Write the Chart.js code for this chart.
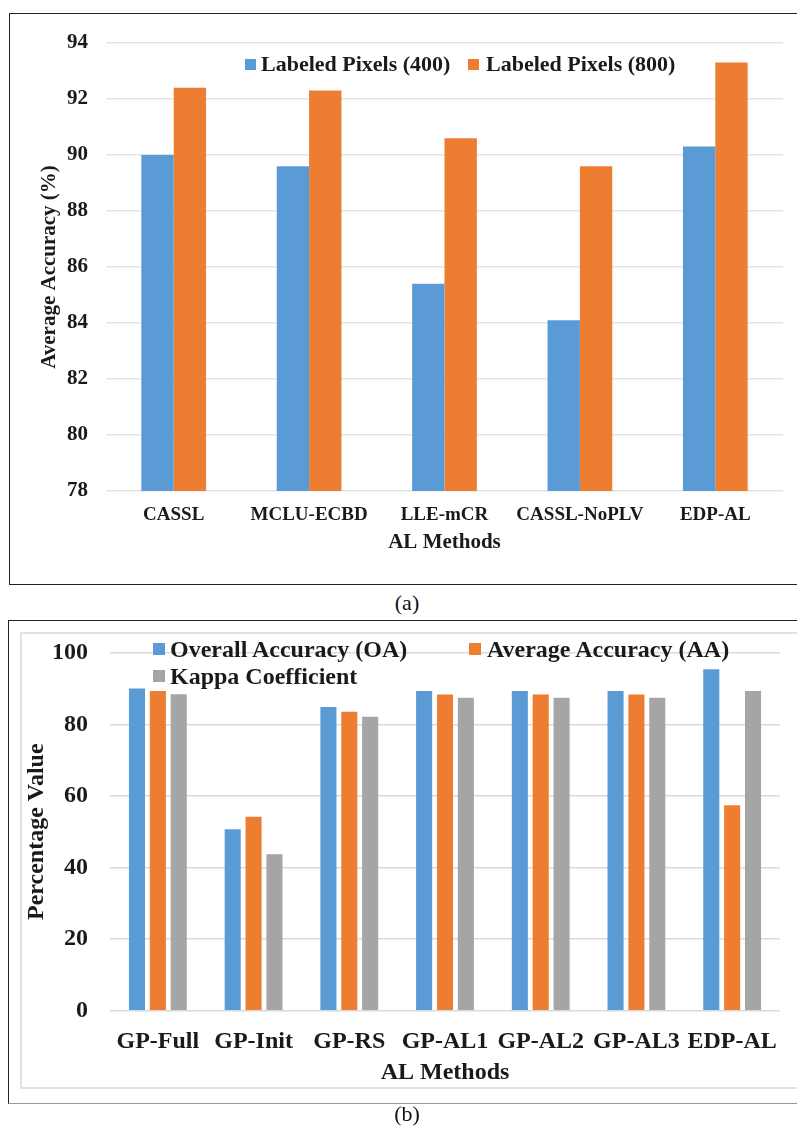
<!DOCTYPE html>
<html>
<head>
<meta charset="utf-8">
<script src="https://cdn.jsdelivr.net/npm/chart.js@4.4.1/dist/chart.umd.min.js"></script>
<style>
  html, body { margin: 0; padding: 0; background: #fff; }
  body { position: relative; width: 797px; height: 1133px; overflow: hidden; font-family: 'Liberation Serif', 'Times New Roman', serif; }
  .box { position: absolute; box-sizing: border-box; }
  canvas { position: absolute; }
  .lg { position: absolute; font-weight: bold; color: #1a1a1a; white-space: nowrap; }
  .sq { position: absolute; }
  .cap { position: absolute; font-size: 22px; color: #111; transform: translateX(-50%); }
</style>
</head>
<body>

<div class="box" style="left:9px; top:13px; width:800px; height:572px; border:1.5px solid #222;"></div>
<canvas id="chartA" width="786" height="568" style="left:11px; top:15px;"></canvas>
<div id="legendA"></div>
<div class="cap" style="left:407px; top:590px;">(a)</div>

<div class="box" style="left:8px; top:620px; width:800px; height:484px; border:1.5px solid #222; border-right:none; border-bottom-color:#999;"></div>
<div class="box" style="left:20px; top:632px; width:790px; height:457px; border:2px solid #e2e2e2;"></div>
<canvas id="chartB" width="787" height="480" style="left:10px; top:622px;"></canvas>
<div id="legendB"></div>
<div class="cap" style="left:407px; top:1101px;">(b)</div>

<script>
// ---- data (a) ----
const methodsA = ['CASSL', 'MCLU-ECBD', 'LLE-mCR', 'CASSL-NoPLV', 'EDP-AL'];
const pixels400 = [90.0, 89.6, 85.4, 84.1, 90.3];
const pixels800 = [92.4, 92.3, 90.6, 89.6, 93.3];
const namesA = ['Labeled Pixels (400)', 'Labeled Pixels (800)'];
const yTicksA = [78, 80, 82, 84, 86, 88, 90, 92, 94];

// ---- data (b) ----
const methodsB = ['GP-Full', 'GP-Init', 'GP-RS', 'GP-AL1', 'GP-AL2', 'GP-AL3', 'EDP-AL'];
const overallAcc = [90.0, 50.7, 84.8, 89.3, 89.3, 89.3, 95.4];
const averageAcc = [89.3, 54.2, 83.5, 88.3, 88.3, 88.3, 57.4];
const kappaCoef = [88.4, 43.7, 82.1, 87.4, 87.4, 87.4, 89.3];
const namesB = ['Overall Accuracy (OA)', 'Average Accuracy (AA)', 'Kappa Coefficient'];
const yTicksB = [0, 20, 40, 60, 80, 100];

const blue = '#5B9BD5';
const orange = '#ED7D31';
const grey = '#A5A5A5';
const serif = "'Liberation Serif', 'Times New Roman', serif";
const ink = '#1a1a1a';

Chart.defaults.font.family = serif;
Chart.defaults.color = ink;

// html legend, one entry per series
function makeLegend(id, names, colors, places, size) {
    let el = document.getElementById(id);
    for (let i = 0; i < names.length; i++) {
        let p = places[i];
        let sq = document.createElement('div');
        sq.className = 'sq';
        sq.style.cssText = 'left:' + p.sx + 'px; top:' + (p.cy - p.s / 2) + 'px; width:' + p.s + 'px; height:' + p.s + 'px; background:' + colors[i] + ';';
        el.appendChild(sq);
        let tx = document.createElement('div');
        tx.className = 'lg';
        tx.textContent = names[i];
        tx.style.cssText = 'left:' + p.tx + 'px; top:' + (p.cy - size * 0.6) + 'px; font-size:' + size + 'px; line-height:' + (size * 1.2) + 'px;';
        el.appendChild(tx);
    }
}

// fixed axis width, and keep tick padding from pushing the chart area down
function fixWidth(w) {
    return function(scale) {
        scale.width = w;
        scale.paddingTop = 0;
        scale.paddingBottom = 0;
    };
}

// ---------- chart (a) ----------
const ctxA = document.getElementById('chartA').getContext('2d');
new Chart(ctxA, {
    type: 'bar',
    data: {
        labels: methodsA,
        datasets: [
            { label: namesA[0], data: pixels400, backgroundColor: blue },
            { label: namesA[1], data: pixels800, backgroundColor: orange }
        ]
    },
    options: {
        responsive: false,
        animation: false,
        layout: { padding: { left: 26.4, top: 28, right: 14, bottom: 27.4 } },
        plugins: { legend: { display: false }, tooltip: { enabled: false } },
        datasets: { bar: { categoryPercentage: 0.478, barPercentage: 1.0 } },
        scales: {
            x: {
                grid: { display: false },
                border: { display: false },
                ticks: { font: { size: 19, weight: 'bold' }, padding: 4.6, color: ink, maxRotation: 0 },
                title: { display: true, text: 'AL Methods', font: { size: 21, weight: 'bold' }, padding: 0, color: ink },
                afterFit: function(scale) { scale.height = 64.6; }
            },
            y: {
                min: yTicksA[0],
                max: yTicksA[yTicksA.length - 1],
                afterBuildTicks: function(scale) { scale.ticks = yTicksA.map(v => ({ value: v })); },
                grid: { color: '#e3e3e3', lineWidth: 1.5, drawTicks: false },
                border: { display: false },
                ticks: { font: { size: 21, weight: 'bold' }, padding: 18, color: ink },
                title: { display: true, text: 'Average Accuracy (%)', font: { size: 21, weight: 'bold' }, padding: 0, color: ink },
                afterFit: fixWidth(68.6)
            }
        }
    }
});

makeLegend('legendA', namesA, [blue, orange], [
    { sx: 245, cy: 64.5, s: 11, tx: 261 },
    { sx: 468, cy: 64.5, s: 11, tx: 486 }
], 22);

// ---------- chart (b) ----------
const ctxB = document.getElementById('chartB').getContext('2d');
new Chart(ctxB, {
    type: 'bar',
    data: {
        labels: methodsB,
        datasets: [
            { label: namesB[0], data: overallAcc, backgroundColor: blue },
            { label: namesB[1], data: averageAcc, backgroundColor: orange },
            { label: namesB[2], data: kappaCoef, backgroundColor: grey }
        ]
    },
    options: {
        responsive: false,
        animation: false,
        layout: { padding: { left: 12.6, top: 30.7, right: 17, bottom: 14.6 } },
        plugins: { legend: { display: false }, tooltip: { enabled: false } },
        datasets: { bar: { categoryPercentage: 0.654, barPercentage: 0.77 } },
        scales: {
            x: {
                grid: { display: false },
                border: { display: false },
                ticks: { font: { size: 24, weight: 'bold' }, padding: 8.2, color: ink, maxRotation: 0, autoSkip: false },
                title: { display: true, text: 'AL Methods', font: { size: 24, weight: 'bold' }, padding: 0, color: ink },
                afterFit: function(scale) { scale.height = 76.7; }
            },
            y: {
                min: yTicksB[0],
                max: yTicksB[yTicksB.length - 1],
                afterBuildTicks: function(scale) { scale.ticks = yTicksB.map(v => ({ value: v })); },
                grid: { color: '#dadada', lineWidth: 1.5, drawTicks: false },
                border: { display: false },
                ticks: { font: { size: 24, weight: 'bold' }, padding: 22, color: ink },
                title: { display: true, text: 'Percentage Value', font: { size: 24, weight: 'bold' }, padding: 0, color: ink },
                afterFit: fixWidth(87.4)
            }
        }
    }
});

makeLegend('legendB', namesB, [blue, orange, grey], [
    { sx: 153, cy: 649, s: 12, tx: 170 },
    { sx: 469, cy: 649, s: 12, tx: 487 },
    { sx: 153, cy: 676, s: 12, tx: 170 }
], 24);
</script>
</body>
</html>
